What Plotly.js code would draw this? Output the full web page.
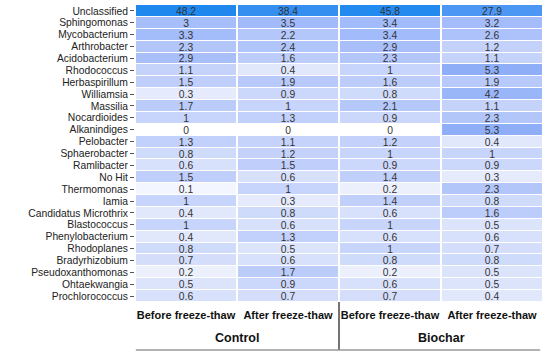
<!DOCTYPE html>
<html>
<head>
<meta charset="utf-8">
<script src="https://cdn.plot.ly/plotly-3.0.1.min.js"></script>
<style>html,body{margin:0;padding:0;background:#fff;}#chart{width:550px;height:357px;}</style>
</head>
<body>
<div id="chart"></div>
<script>
const genera = ["Unclassified","Sphingomonas","Mycobacterium","Arthrobacter","Acidobacterium","Rhodococcus","Herbaspirillum","Williamsia","Massilia","Nocardioides","Alkanindiges","Pelobacter","Sphaerobacter","Ramlibacter","No Hit","Thermomonas","Iamia","Candidatus Microthrix","Blastococcus","Phenylobacterium","Rhodoplanes","Bradyrhizobium","Pseudoxanthomonas","Ohtaekwangia","Prochlorococcus"];
const columnLabels = ["Before freeze-thaw","After freeze-thaw","Before freeze-thaw","After freeze-thaw"];
const groupLabels = ["Control","Biochar"];
const controlBefore = [48.2,3,3.3,2.3,2.9,1.1,1.5,0.3,1.7,1,0,1.3,0.8,0.6,1.5,0.1,1,0.4,1,0.4,0.8,0.7,0.2,0.5,0.6];
const controlAfter  = [38.4,3.5,2.2,2.4,1.6,0.4,1.9,0.9,1,1.3,0,1.1,1.2,1.5,0.6,1,0.3,0.8,0.6,1.3,0.5,0.6,1.7,0.9,0.7];
const biocharBefore = [45.8,3.4,3.4,2.9,2.3,1,1.6,0.8,2.1,0.9,0,1.2,1,0.9,1.4,0.2,1.4,0.6,1,0.6,1,0.8,0.2,0.6,0.7];
const biocharAfter  = [27.9,3.2,2.6,1.2,1.1,5.3,1.9,4.2,1.1,2.3,5.3,0.4,1,0.9,0.3,2.3,0.8,1.6,0.5,0.6,0.7,0.8,0.5,0.5,0.4];

const cols = [controlBefore, controlAfter, biocharBefore, biocharAfter];
const z = genera.map((g,i)=>cols.map(c=>c[i]));
const xIdx = [0,1,2,3];

const trace = {
  type:'heatmap',
  x:xIdx, y:genera, z:z,
  zmin:0, zmax:48.2,
  colorscale:[[0,'#ffffff'],[0.00207,'#f3f6fe'],[0.0062,'#e5ebfc'],[0.0207,'#c7d4fb'],[0.0622,'#a6befa'],[0.11,'#8eaff8'],[0.579,'#4c96f4'],[1,'#1e88ee']],
  showscale:false,
  xgap:2, ygap:1,
  texttemplate:'%{z}',
  textfont:{family:'"Liberation Sans", Arial, sans-serif', size:10.3, color:'#333'},
  hoverinfo:'skip'
};

const lineY = (302-350)/297;
const layout = {
  width:550, height:357,
  margin:{l:135, r:7, t:5, b:55},
  paper_bgcolor:'#fff', plot_bgcolor:'#fff',
  xaxis:{
    tickmode:'array', tickvals:xIdx, ticktext:columnLabels,
    ticks:'outside', ticklen:3, tickcolor:'rgba(0,0,0,0)',
    tickfont:{family:'"Liberation Sans", Arial, sans-serif', size:11, color:'#111', weight:'bold'},
    showgrid:false, zeroline:false, showline:false, range:[-0.5,3.5], fixedrange:true
  },
  yaxis:{
    autorange:'reversed', type:'category',
    tickmode:'array', tickvals:genera, ticktext:genera,
    ticks:'outside', ticklen:4, tickcolor:'#555', tickwidth:1,
    tickfont:{family:'"Liberation Sans", Arial, sans-serif', size:10.3, color:'#222'},
    showgrid:false, zeroline:false, showline:false
  },
  annotations:[
    {x:0.5, y:(302-338)/297, xref:'x', yref:'paper', text:groupLabels[0], showarrow:false, yanchor:'middle',
     font:{family:'"Liberation Sans", Arial, sans-serif', size:12.5, color:'#111', weight:'bold'}},
    {x:2.5, y:(302-338)/297, xref:'x', yref:'paper', text:groupLabels[1], showarrow:false, yanchor:'middle',
     font:{family:'"Liberation Sans", Arial, sans-serif', size:12.5, color:'#111', weight:'bold'}}
  ],
  shapes:[
    {type:'line', xref:'x', yref:'paper', x0:1.5, x1:1.5, y0:0, y1:lineY, line:{color:'#444', width:1.5}},
    {type:'line', xref:'paper', yref:'paper', x0:0.002, x1:0.993, y0:lineY, y1:lineY, line:{color:'#999', width:1.5}}
  ]
};
Plotly.newPlot('chart',[trace],layout,{displayModeBar:false, staticPlot:true});
</script>
</body>
</html>
